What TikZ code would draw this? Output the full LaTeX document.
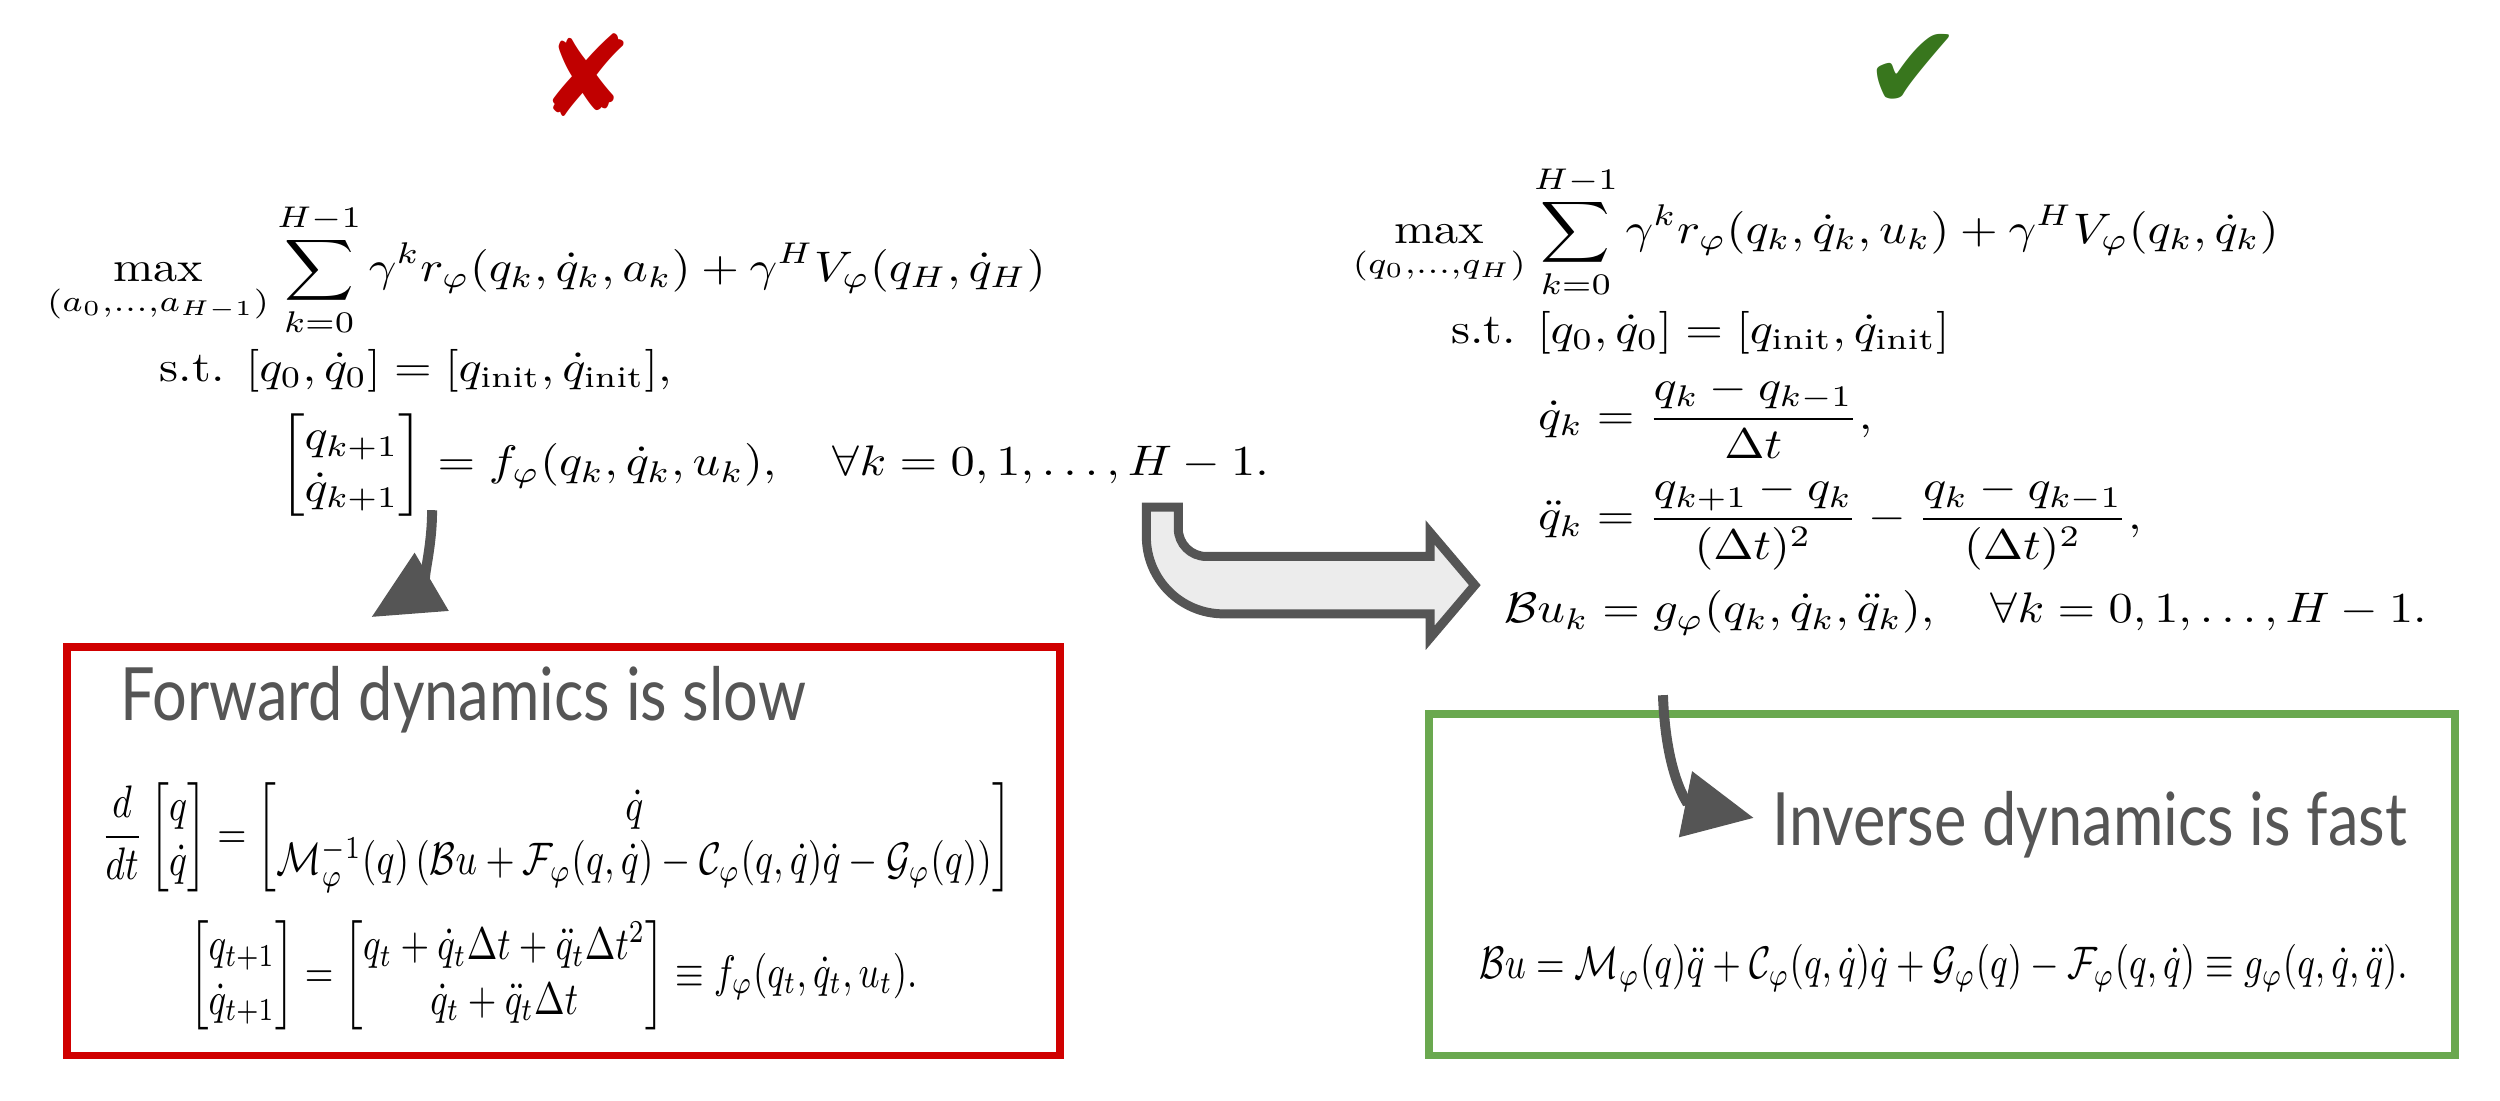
\documentclass[tikz,border=0pt]{standalone}
\usepackage{amsmath,amssymb}
\usepackage{fontspec}
\newfontfamily\dejavu{DejaVu Sans}
\newfontfamily\handfont{Lato}
\usetikzlibrary{arrows.meta}
\definecolor{redx}{HTML}{C00000}
\definecolor{greenok}{HTML}{38761D}
\definecolor{boxred}{HTML}{D00000}
\definecolor{boxgreen}{HTML}{6AA84F}
\definecolor{arrgray}{HTML}{555555}
\tikzset{
  bigeq/.style={inner sep=0pt},
  curvearrow/.style={draw=arrgray, line width=1.0mm, -{Triangle[length=7mm,width=6.5mm]}},
  titletext/.style={text=arrgray, font=\handfont, inner sep=0pt},
}
\begin{document}
\begin{tikzpicture}[x=0.16mm,y=-0.16mm]
\useasboundingbox (0,0) rectangle (1568,690);
% marks
\node (cross) at (368,47) {\scalebox{3.2}{\dejavu\color{redx}✘}};
\node (check) at (1200,45) {\scalebox{3.4}{\dejavu\color{greenok}✔}};
% left problem
\node[bigeq, anchor=north west] (lefteq) at (24,127) {\scalebox{1.38}[1.22]{$\begin{aligned}
&\max_{(a_0,\dots,a_{H-1})}\sum_{k=0}^{H-1}\gamma^k r_\varphi(q_k,\dot q_k,a_k)+\gamma^H V_\varphi(q_H,\dot q_H)\\[-2pt]
&\hspace{25pt}\text{s.t. }[q_0,\dot q_0]=[q_{\text{init}},\dot q_{\text{init}}],\\
&\hspace{48pt}\begin{bmatrix}q_{k+1}\\ \dot q_{k+1}\end{bmatrix}=f_\varphi(q_k,\dot q_k,u_k),\quad\forall k=0,1,\dots,H-1.
\end{aligned}$}};
% right problem
\node[bigeq, anchor=north west] (righteq) at (843,103) {\scalebox{1.38}[1.22]{$\begin{aligned}
&\max_{(q_0,\dots,q_{H})}\sum_{k=0}^{H-1}\gamma^k r_\varphi(q_k,\dot q_k,u_k)+\gamma^H V_\varphi(q_k,\dot q_k)\\[-2pt]
&\hspace{22pt}\text{s.t. }[q_0,\dot q_0]=[q_{\text{init}},\dot q_{\text{init}}]\\
&\hspace{40pt}\dot q_k=\frac{q_k-q_{k-1}}{\Delta t},\\
&\hspace{40pt}\ddot q_k=\frac{q_{k+1}-q_k}{(\Delta t)^2}-\frac{q_k-q_{k-1}}{(\Delta t)^2},\\
&\hspace{33pt}\mathcal{B}u_k=g_\varphi(q_k,\dot q_k,\ddot q_k),\quad\forall k=0,1,\dots,H-1.
\end{aligned}$}};
% boxes
\draw[boxred, line width=0.8mm] (42,406) rectangle (665,662);
\draw[boxgreen, line width=0.8mm] (896,448) rectangle (1540,662);
\node[titletext, anchor=west] (slow) at (75,439) {\scalebox{1.75}[2.1]{Forward dynamics is slow}};
\node[titletext, anchor=east] (fast) at (1510,517) {\scalebox{1.75}[2.1]{Inverse dynamics is fast}};
\node[bigeq] (fwd1) at (349,525) {\scalebox{1.07}[1.3]{$\displaystyle\frac{d}{dt}\begin{bmatrix}q\\ \dot q\end{bmatrix}=\begin{bmatrix}\dot q\\ \mathcal{M}_\varphi^{-1}(q)\left(\mathcal{B}u+\mathcal{F}_\varphi(q,\dot q)-\mathcal{C}_\varphi(q,\dot q)\dot q-\mathcal{G}_\varphi(q)\right)\end{bmatrix}$}};
\node[bigeq] (fwd2) at (347,612) {\scalebox{1.05}[1.3]{$\begin{bmatrix}q_{t+1}\\ \dot q_{t+1}\end{bmatrix}=\begin{bmatrix}q_t+\dot q_t\Delta t+\ddot q_t\Delta t^2\\ \dot q_t+\ddot q_t\Delta t\end{bmatrix}\equiv f_\varphi(q_t,\dot q_t,u_t).$}};
\node[bigeq] (inv) at (1219,607) {\scalebox{1.05}[1.3]{$\mathcal{B}u=\mathcal{M}_\varphi(q)\ddot q+\mathcal{C}_\varphi(q,\dot q)\dot q+\mathcal{G}_\varphi(q)-\mathcal{F}_\varphi(q,\dot q)\equiv g_\varphi(q,\dot q,\ddot q).$}};
% curved arrows
\coordinate (la1) at (271,320);
\coordinate (la2) at (233,387);
\draw[curvearrow] (la1) .. controls (271,350) and (262,370) .. (la2);
\coordinate (ra1) at (1043,436);
\coordinate (ra2) at (1100,513);
\draw[curvearrow] (ra1) .. controls (1045,490) and (1060,505) .. (ra2);
% big hollow arrow
\draw[draw=arrgray, fill=gray!15, line width=0.9mm, line join=miter]
  (719,318) [rounded corners=22]-- (719,385) [sharp corners]-- (897,385) -- (897,400) -- (925,367) -- (897,334) -- (897,349)
  [rounded corners=8]-- (739,349) [sharp corners]-- (739,318) -- cycle;
\end{tikzpicture}
\end{document}
